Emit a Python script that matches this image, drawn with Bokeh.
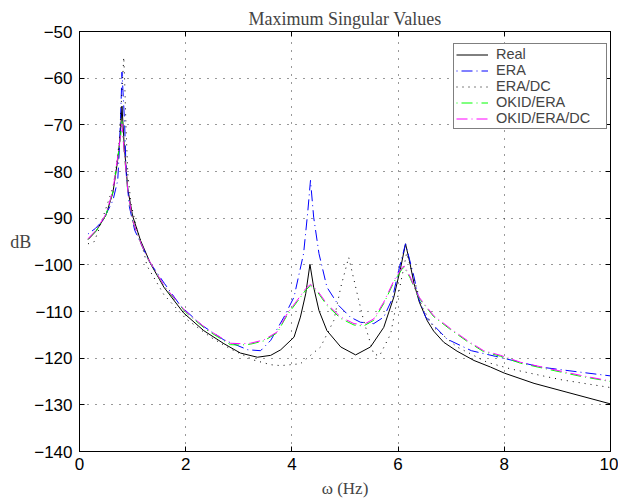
from bokeh.plotting import figure
from bokeh.models import Range1d, FixedTicker, LinearAxis, Legend, LegendItem, CustomLabelingPolicy
from bokeh.embed import file_html
from bokeh.resources import INLINE

title_text = "Maximum Singular Values"
x_label = "ω (Hz)"
y_label = "dB"
x_ticks = [0, 2, 4, 6, 8, 10]
x_tick_labels = ["0", "2", "4", "6", "8", "10"]
y_ticks = [-140, -130, -120, -110, -100, -90, -80, -70, -60, -50]
y_tick_labels = ["−140", "−130", "−120", "−110", "−100", "−90", "−80", "−70", "−60", "−50"]
series_names = ["Real", "ERA", "ERA/DC", "OKID/ERA", "OKID/ERA/DC"]

freq_real = [0.16, 0.31, 0.5, 0.63, 0.72, 0.77, 0.80, 0.84, 0.91, 1.0, 1.15, 1.34,
             1.59, 1.96, 2.34, 2.72, 3.03, 3.35, 3.6, 3.79, 4.04, 4.16, 4.26, 4.34,
             4.41, 4.51, 4.66, 4.92, 5.2, 5.48, 5.73, 5.92, 6.05, 6.14, 6.22, 6.30,
             6.40, 6.55, 6.67, 6.86, 7.11, 7.43, 7.74, 8.0, 8.56, 9.18, 10.0]
db_real = [-94.6, -92.8, -89.3, -84.5, -77.5, -72.0, -66.0, -74.0, -83.8, -89.5, -94.8, -99.8,
           -104.8, -110.3, -114.1, -116.9, -118.9, -119.8, -119.4, -118.2, -115.5, -111.2, -106.2, -99.9,
           -104.8, -109.8, -114.1, -117.6, -119.3, -117.6, -113.4, -106.9, -100.5, -95.5, -99.5, -104.0,
           -108.0, -112.0, -114.2, -116.6, -118.5, -120.5, -121.9, -123.2, -125.4, -127.3, -129.8]

freq_era = [0.16, 0.30, 0.44, 0.63, 0.72, 0.75, 0.78, 0.80, 0.82, 0.85, 0.88, 0.94,
            1.04, 1.16, 1.32, 1.60, 1.91, 2.31, 2.72, 3.17, 3.41, 3.60, 3.85, 4.04,
            4.22, 4.30, 4.35, 4.41, 4.51, 4.66, 4.88, 5.10, 5.29, 5.54, 5.73, 5.89,
            6.01, 6.14, 6.30, 6.39, 6.52, 6.92, 7.38, 7.83, 8.68, 9.36, 10.0]
db_era = [-93.4, -92.2, -90.5, -86.2, -81.9, -75.5, -66.2, -58.7, -63.0, -69.8, -80.5, -87.6,
          -92.6, -95.5, -99.4, -104.0, -108.9, -113.0, -116.1, -118.2, -118.4, -116.2, -111.2, -106.9,
          -97.6, -88.5, -81.9, -89.8, -97.6, -104.8, -108.7, -111.2, -112.3, -112.6, -111.2, -107.3,
          -101.2, -95.5, -102.6, -107.3, -111.2, -115.9, -118.4, -119.6, -121.9, -122.9, -123.8]

freq_eradc = [0.16, 0.28, 0.38, 0.63, 0.69, 0.75, 0.80, 0.834, 0.85, 0.88, 0.91, 0.97,
              1.07, 1.22, 1.27, 1.59, 2.0, 2.47, 2.84, 3.28, 3.6, 3.79, 4.16, 4.54,
              4.79, 4.92, 5.07, 5.23, 5.35, 5.54, 5.65, 5.86, 5.98, 6.10, 6.16, 6.30,
              6.45, 6.67, 7.11, 7.68, 8.12, 8.56, 9.06, 9.5, 10.0]
db_eradc = [-95.5, -95.0, -91.9, -83.4, -79.1, -73.5, -62.6, -55.5, -60.5, -71.9, -80.5, -86.9,
            -91.9, -97.6, -100.2, -106.4, -111.5, -115.5, -118.0, -120.4, -121.4, -121.6, -121.2, -117.6,
            -111.9, -104.8, -98.4, -106.2, -111.9, -119.1, -119.5, -114.8, -107.6, -101.0, -97.5, -103.0,
            -109.0, -113.4, -117.6, -120.9, -122.3, -123.4, -124.6, -125.4, -126.3]

freq_okid = [0.16, 0.31, 0.5, 0.63, 0.72, 0.77, 0.80, 0.84, 0.91, 1.0, 1.16, 1.29,
             1.6, 2.0, 2.4, 2.84, 3.03, 3.22, 3.47, 3.72, 3.91, 4.1, 4.26, 4.35,
             4.48, 4.66, 4.92, 5.17, 5.35, 5.54, 5.73, 5.92, 6.08, 6.12, 6.23, 6.36,
             6.42, 6.67, 6.99, 7.30, 7.61, 7.93, 8.31, 8.87, 9.44, 10.0]
db_okid = [-94.5, -92.8, -89.3, -84.3, -77.2, -72.9, -69.3, -75.7, -84.3, -90.6, -95.5, -98.8,
           -104.7, -110.2, -114.0, -117.1, -117.2, -117.0, -116.3, -114.6, -110.8, -107.9, -105.4, -104.5,
           -105.8, -108.7, -111.5, -112.9, -113.1, -111.9, -108.3, -103.7, -100.8, -100.6, -102.9, -106.4,
           -107.5, -111.1, -113.9, -116.4, -118.6, -119.6, -121.1, -122.5, -123.9, -125.0]

freq_okiddc = [0.16, 0.31, 0.5, 0.63, 0.72, 0.77, 0.80, 0.84, 0.91, 1.0, 1.16, 1.29,
               1.6, 2.0, 2.4, 2.84, 3.03, 3.22, 3.47, 3.72, 3.91, 4.1, 4.26, 4.35,
               4.48, 4.66, 4.92, 5.17, 5.35, 5.54, 5.73, 5.92, 6.08, 6.12, 6.23, 6.36,
               6.42, 6.67, 6.99, 7.30, 7.61, 7.93, 8.31, 8.87, 9.44, 10.0]
db_okiddc = [-94.4, -92.6, -89.1, -84.1, -76.9, -72.6, -69.8, -75.5, -84.1, -90.5, -95.5, -98.7,
             -104.6, -110.0, -113.8, -116.8, -116.9, -116.8, -116.1, -114.4, -110.5, -107.6, -105.1, -104.2,
             -105.5, -108.4, -111.2, -112.6, -112.8, -111.6, -108.0, -103.4, -100.5, -100.3, -102.6, -106.2,
             -107.3, -110.9, -113.7, -116.2, -118.4, -119.4, -120.9, -122.3, -123.7, -124.9]

SANS = "Liberation Sans"
SERIF = "Liberation Serif"

p = figure(width=618, height=500, x_range=Range1d(0, 10), y_range=Range1d(-140, -50),
           output_backend="svg", toolbar_location=None,
           min_border_left=79, min_border_right=8, min_border_top=31, min_border_bottom=49)
p.background_fill_color = "white"
p.border_fill_color = "white"
p.outline_line_color = "black"
p.outline_line_width = 1

p.title.text = title_text
p.title.text_font = SERIF
p.title.text_font_size = "18px"
p.title.text_font_style = "normal"
p.title.align = "center"
p.title.standoff = 5

no_labels = CustomLabelingPolicy(code="return []")

def style_axis(ax, ticks, labels, show):
    ax.ticker = FixedTicker(ticks=ticks)
    ax.major_tick_in = 5
    ax.major_tick_out = 0
    ax.minor_tick_line_color = None
    ax.axis_line_color = "black"
    ax.major_tick_line_color = "black"
    ax.major_label_text_font = SANS
    ax.major_label_text_color = "black"
    if show:
        ax.major_label_overrides = {t: l for t, l in zip(ticks, labels)}
        ax.major_label_text_font_size = "17px"
    else:
        ax.major_label_text_font_size = "0px"
        ax.major_label_standoff = 0
        ax.major_label_policy = no_labels

xa = p.xaxis[0]
style_axis(xa, x_ticks, x_tick_labels, True)
xa.major_label_standoff = 6
xa.axis_label = x_label
xa.axis_label_text_font = SERIF
xa.axis_label_text_font_size = "17px"
xa.axis_label_text_font_style = "normal"
xa.axis_label_standoff = 6

ya = p.yaxis[0]
style_axis(ya, y_ticks, y_tick_labels, True)
ya.major_label_standoff = 7
ya.axis_label = y_label
ya.axis_label_text_font = SERIF
ya.axis_label_text_font_size = "18px"
ya.axis_label_text_font_style = "normal"
ya.axis_label_orientation = "horizontal"
ya.axis_label_text_baseline = "bottom"
ya.axis_label_standoff = 0

top = LinearAxis()
style_axis(top, x_ticks, x_tick_labels, False)
p.add_layout(top, "above")
right = LinearAxis()
style_axis(right, y_ticks, y_tick_labels, False)
p.add_layout(right, "right")

p.xgrid.ticker = FixedTicker(ticks=x_ticks)
p.ygrid.ticker = FixedTicker(ticks=y_ticks)
for g in (p.xgrid[0], p.ygrid[0]):
    g.grid_line_color = "black"
    g.grid_line_dash = "1 7"
    g.grid_line_width = 1
    g.grid_line_alpha = 0.8

r_real = p.line(freq_real, db_real, line_color="black", line_width=1)
r_era = p.line(freq_era, db_era, line_color="#0000ff", line_width=1,
               line_dash="11 4 1 4", line_dash_offset=15)
r_eradc = p.line(freq_eradc, db_eradc, line_color="black", line_width=1, line_dash="1 5")
r_okid = p.line(freq_okid, db_okid, line_color="#00ff00", line_width=1,
                line_dash="11 4 1 4", line_dash_offset=15)
r_okiddc = p.line(freq_okiddc, db_okiddc, line_color="#ff00ff", line_width=1,
                  line_dash="11 4 1 4")

renderers = [r_real, r_era, r_eradc, r_okid, r_okiddc]
legend = Legend(items=[LegendItem(label=n, renderers=[r]) for n, r in zip(series_names, renderers)],
                location=(374, 322))
legend.label_text_font = SANS
legend.label_text_font_size = "14.5px"
legend.border_line_color = "black"
legend.border_line_width = 1
legend.background_fill_color = "white"
legend.background_fill_alpha = 1
legend.padding = 2
legend.spacing = 0
legend.margin = 0
legend.label_height = 15
legend.glyph_height = 15
legend.glyph_width = 32
legend.label_standoff = 8
legend.label_width = 108
p.add_layout(legend)

open("out.html", "w").write(file_html(p, INLINE))
